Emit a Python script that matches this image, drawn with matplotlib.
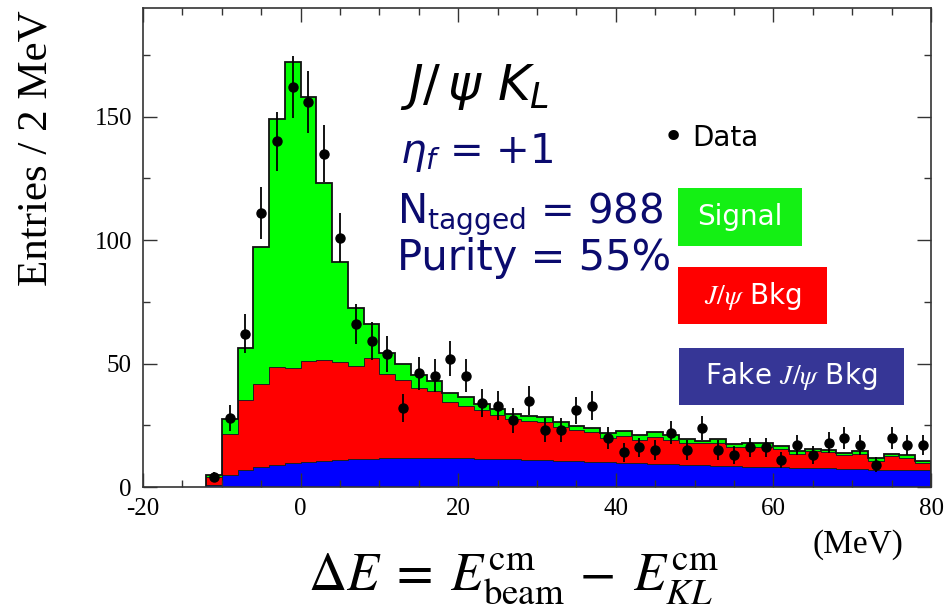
import numpy as np
import matplotlib.pyplot as plt
from matplotlib.patches import Rectangle

plt.rcParams['axes.unicode_minus'] = False

# 2 MeV bins from -12 to 80 MeV
edges = np.arange(-12, 82, 2)
centers = edges[:-1] + 1

# Fake J/psi background (bottom of the stack)
fake_bkg = [1.0, 4.7, 6.7, 8.0, 9.0, 9.6, 10.0, 10.7, 11.0, 11.2, 11.5, 11.6,
            11.7, 11.8, 11.8, 11.8, 11.7, 11.5, 11.4, 11.2, 11.0, 10.8, 10.7, 10.5,
            10.3, 10.1, 9.8, 9.6, 9.4, 9.2, 9.0, 8.8, 8.7, 8.5, 8.3, 8.2,
            8.0, 7.8, 7.7, 7.5, 7.4, 7.2, 7.0, 6.9, 6.8, 6.7]

# J/psi background
jpsi_bkg = [3.0, 16.9, 28.4, 33.8, 39.8, 38.4, 41.0, 40.9, 39.6, 37.8, 40.7, 34.2,
            31.6, 28.4, 27.0, 22.6, 21.3, 19.5, 17.6, 16.4, 15.7, 15.5, 13.8, 12.4,
            11.9, 9.8, 10.9, 9.5, 10.8, 9.9, 8.8, 9.0, 9.1, 7.6, 7.8, 7.9,
            7.5, 5.7, 6.7, 6.6, 5.4, 6.3, 3.7, 5.6, 5.0, 2.9]

# Signal
signal = [0.7, 5.8, 21.3, 55.4, 100.2, 124.2, 106.8, 71.5, 40.7, 23.5, 14.0, 8.6,
          6.7, 5.2, 4.2, 3.8, 3.4, 2.6, 2.5, 1.9, 2.1, 2.0, 2.0, 2.0,
          1.6, 1.9, 2.0, 2.1, 2.0, 1.8, 1.5, 1.0, 1.7, 1.4, 1.7, 1.7,
          1.1, 1.0, 1.1, 0.7, 1.1, 1.0, 1.0, 1.0, 1.0, 1.1]

# Data entries per bin
data = [4, 28, 62, 111, 140, 162, 156, 135, 101, 66, 59, 54,
        32, 46, 45, 52, 45, 34, 33, 27, 35, 23, 23, 31,
        33, 20, 14, 16, 15, 22, 15, 24, 15, 13, 16, 16,
        11, 17, 13, 18, 20, 17, 9, 20, 17, 17]

fake_bkg = np.array(fake_bkg)
jpsi_bkg = np.array(jpsi_bkg)
signal = np.array(signal)
data = np.array(data)

lvl1 = fake_bkg
lvl2 = lvl1 + jpsi_bkg
lvl3 = lvl2 + signal

fig = plt.figure(figsize=(9.49, 6.12), dpi=100)
ax = fig.add_axes([143 / 949, 1 - 487 / 612, (931 - 143) / 949, (487 - 8) / 612])

# stacked histograms
ax.stairs(lvl1, edges, baseline=0, fill=True, color='#0000ff', lw=0)
ax.stairs(lvl2, edges, baseline=lvl1, fill=True, color='#ff0000', lw=0)
ax.stairs(lvl3, edges, baseline=lvl2, fill=True, color='#00ff00', lw=0)
ax.stairs(lvl1, edges, baseline=None, color='#202020', lw=0.7)
ax.stairs(lvl2, edges, baseline=None, color='#202020', lw=0.7)
ax.stairs(lvl3, edges, baseline=0, color='#111111', lw=1.3)

# data points
ax.errorbar(centers, data, yerr=np.sqrt(data), fmt='o', color='black',
            ms=6.5, elinewidth=1.3, capsize=0)

ax.set_xlim(-20, 80)
ax.set_ylim(0, 194)
ax.set_xticks([-20, 0, 20, 40, 60, 80])
ax.set_xticks(np.arange(-20, 81, 5), minor=True)
ax.set_yticks([0, 50, 100, 150])
ax.set_yticks(np.arange(0, 194, 25), minor=True)
ax.tick_params(which='both', direction='in', top=True, right=True,
               color='#333333', width=1.0)
ax.tick_params(which='major', length=10, labelsize=18, pad=8)
ax.tick_params(which='minor', length=5)
for lab in ax.get_xticklabels() + ax.get_yticklabels():
    lab.set_family('Liberation Serif')
for sp in ax.spines.values():
    sp.set_color('#333333')
    sp.set_linewidth(1.2)

# axis titles
fig.text(36 / 949, 1 - 10 / 612, 'Entries / 2 MeV', rotation=90, ha='center',
         va='top', family='Liberation Serif', fontsize=31)
fig.text(858 / 949, 1 - 553 / 612, '(MeV)', ha='center', va='baseline',
         family='Liberation Serif', fontsize=24)
fig.text(513 / 949, 1 - 590 / 612,
         r'$\Delta E\;=\;E^{\rm cm}_{\rm beam}\,-\;E^{\rm cm}_{KL}$',
         ha='center', va='baseline', fontsize=38, math_fontfamily='stix')

# channel description
navy = '#0b0b6e'
fig.text(400 / 949, 1 - 100 / 612, r'$J/\,\psi\ K_L$', fontsize=36,
         va='baseline', color='black')
fig.text(400 / 949, 1 - 163 / 612, r'$\eta_f$ = +1', fontsize=29,
         va='baseline', color=navy)
fig.text(397 / 949, 1 - 223 / 612, r'N$_{\rm tagged}$ = 988', fontsize=29,
         va='baseline', color=navy)
fig.text(397 / 949, 1 - 270 / 612, 'Purity = 55%', fontsize=30,
         va='baseline', color=navy)

# legend
fig.text(673 / 949, 1 - 138 / 612, '\u2022', fontsize=26, ha='center',
         va='center', color='black')
fig.text(692 / 949, 1 - 138 / 612, 'Data', fontsize=20, va='center')

boxes = [
    (678, 188, 802, 246, '#14f014', 'Signal'),
    (678, 267, 827, 324, '#ff0000', r'$J/\psi$ Bkg'),
    (679, 348, 904, 405, '#363696', r'Fake $J/\psi$ Bkg'),
]
for x0, y0, x1, y1, col, txt in boxes:
    fig.patches.append(Rectangle((x0 / 949, 1 - y1 / 612), (x1 - x0) / 949,
                                 (y1 - y0) / 612, transform=fig.transFigure,
                                 facecolor=col, edgecolor='none'))
    fig.text((x0 + x1) / 2 / 949, 1 - (y0 + y1) / 2 / 612, txt, fontsize=20,
             ha='center', va='center', color='white', math_fontfamily='stix')

fig.savefig('out.png', dpi=100)
